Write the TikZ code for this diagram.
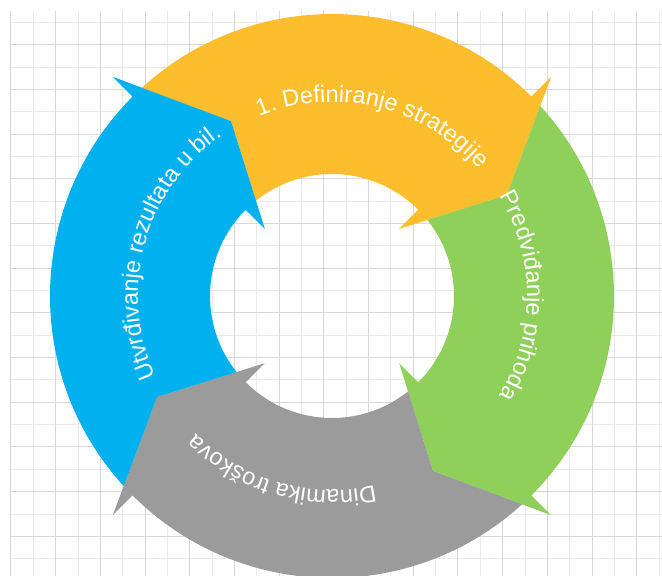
\documentclass[tikz,border=0pt]{standalone}
\usepackage{fontspec}
\setmainfont{Liberation Sans}
\usepackage{tikz}
\usetikzlibrary{decorations.text}

\definecolor{segyellow}{HTML}{FDBE2D}
\definecolor{seggreen}{HTML}{8FD05A}
\definecolor{seggray}{HTML}{9B9B9B}
\definecolor{segblue}{HTML}{00B0EF}
\definecolor{gridminor}{HTML}{EAEAEA}
\definecolor{gridmajor}{HTML}{D9D9D9}

\newcommand{\labelfont}{\fontsize{17.7}{20}\selectfont}

\tikzset{
  ringtext/.style={decorate, decoration={text along path, text align=center, text color=white, text={|\labelfont|#1}}}
}

\begin{document}
\begin{tikzpicture}[x=0.75pt, y=0.75pt]
\useasboundingbox (-332,-280) rectangle (330,296);

% grid paper
\foreach \k in {0,...,29} \draw[gridminor, line width=0.75pt] (-321+22.35*\k,285) -- (-321+22.35*\k,-280);
\foreach \k in {0,...,24} \draw[gridminor, line width=0.75pt] (-321,273.7-22.35*\k) -- (330,273.7-22.35*\k);
\foreach \k in {0,...,14} \draw[gridmajor, line width=0.75pt] (-321+44.7*\k,285) -- (-321+44.7*\k,-280);
\foreach \k in {0,...,11} \draw[gridmajor, line width=0.75pt] (-321,251.35-44.7*\k) -- (330,251.35-44.7*\k);

% four curved arrows, clockwise
\foreach \ang/\col in {45/segyellow, -45/seggreen, -135/seggray, 135/segblue}
  \fill[\col] (\ang+87.4:282) arc[start angle=\ang+87.4, end angle=\ang, radius=282]
    -- (\ang:310) -- (\ang-15:202) -- (\ang:95) -- (\ang:122)
    arc[start angle=\ang, end angle=\ang+83.6, radius=122]
    -- (\ang+75:202) -- cycle;

% labels along the ring
\path[ringtext={1. Definiranje strategije}] (126.4:194) arc[start angle=126.4, end angle=26.4, radius=194];
\path[ringtext={Predviđanje prihoda}] (50:195) arc[start angle=50, end angle=-50, radius=195];
\path[ringtext={Dinamika troškova}] (-56:194) arc[start angle=-56, end angle=-156, radius=194];
\path[ringtext={Utvrđivanje rezultata u bil.}] (214.5:194) arc[start angle=214.5, end angle=114.5, radius=194];

\end{tikzpicture}
\end{document}
